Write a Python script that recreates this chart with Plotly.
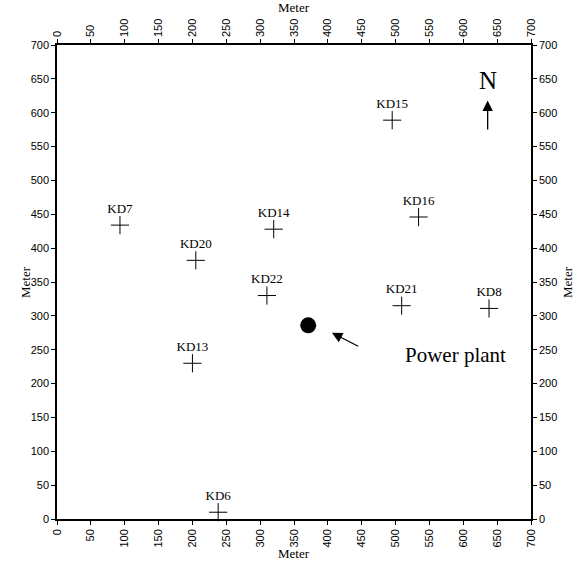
import plotly.graph_objects as go

names = ["KD15", "KD16", "KD21", "KD8", "KD14", "KD20", "KD22", "KD13", "KD7", "KD6"]
xs = [495, 534, 509, 638, 320, 205, 310, 200, 93, 238]
ys = [589, 446, 315, 311, 428, 382, 330, 230, 434, 10]

plant_x = [371]
plant_y = [286]
plant_label = "Power plant"
axis_title = "Meter"

ticks = list(range(0, 701, 50))

serif = "Liberation Serif"
sans = "Liberation Sans"

fig = go.Figure()
fig.add_trace(go.Scatter(
    x=xs, y=ys, mode="markers+text", text=names, textposition="top center",
    marker=dict(symbol="cross-thin", size=13, line=dict(width=1, color="black"), color="black"),
    textfont=dict(family=serif, size=13, color="black"), showlegend=False, cliponaxis=False))
fig.add_trace(go.Scatter(
    x=plant_x, y=plant_y, mode="markers",
    marker=dict(symbol="circle", size=16, color="black"), showlegend=False))
# invisible trace to activate secondary axes
fig.add_trace(go.Scatter(x=[0], y=[0], xaxis="x2", yaxis="y2", mode="markers",
                         marker=dict(opacity=0), showlegend=False, hoverinfo="skip"))

axis_common = dict(range=[0, 700], tickvals=ticks, ticks="outside", ticklen=4, tickwidth=1,
                   tickcolor="black", showgrid=False, zeroline=False, showline=True,
                   linecolor="black", linewidth=1.5, automargin=False,
                   tickfont=dict(family=sans, size=11, color="black"))

title_font = dict(family=serif, size=13, color="black")
ta = dict(xref="paper", yref="paper", xanchor="center", yanchor="middle",
          showarrow=False, font=title_font, text=axis_title)

fig.update_layout(
    width=578, height=565,
    margin=dict(l=57, r=47, t=45, b=46, autoexpand=False),
    plot_bgcolor="white", paper_bgcolor="white",
    xaxis=dict(**axis_common, side="bottom", tickangle=-90),
    xaxis2=dict(**axis_common, side="top", overlaying="x", tickangle=-90),
    yaxis=dict(**axis_common, side="left"),
    yaxis2=dict(**axis_common, side="right", overlaying="y"),
    annotations=[
        dict(x=406, y=275, ax=447, ay=254, xref="x", yref="y", axref="x", ayref="y",
             showarrow=True, arrowhead=2, arrowsize=1.6, arrowwidth=1.3, arrowcolor="black", text=""),
        dict(x=636, y=618, ax=636, ay=573, xref="x", yref="y", axref="x", ayref="y",
             showarrow=True, arrowhead=2, arrowsize=1.6, arrowwidth=1.3, arrowcolor="black", text=""),
        dict(x=636, y=648, xref="x", yref="y", text="N", showarrow=False,
             font=dict(family=serif, size=25, color="black")),
        dict(x=588, y=242, xref="x", yref="y", text=plant_label, showarrow=False,
             font=dict(family=serif, size=21, color="black")),
        dict(**ta, x=0.5, y=1, yshift=37.5),
        dict(**ta, x=0.5, y=0, yshift=-34.5),
        dict(**ta, x=0, y=0.5, xshift=-32, textangle=-90),
        dict(**ta, x=1, y=0.5, xshift=36, textangle=-90),
    ],
)

fig.write_html("out.html")
